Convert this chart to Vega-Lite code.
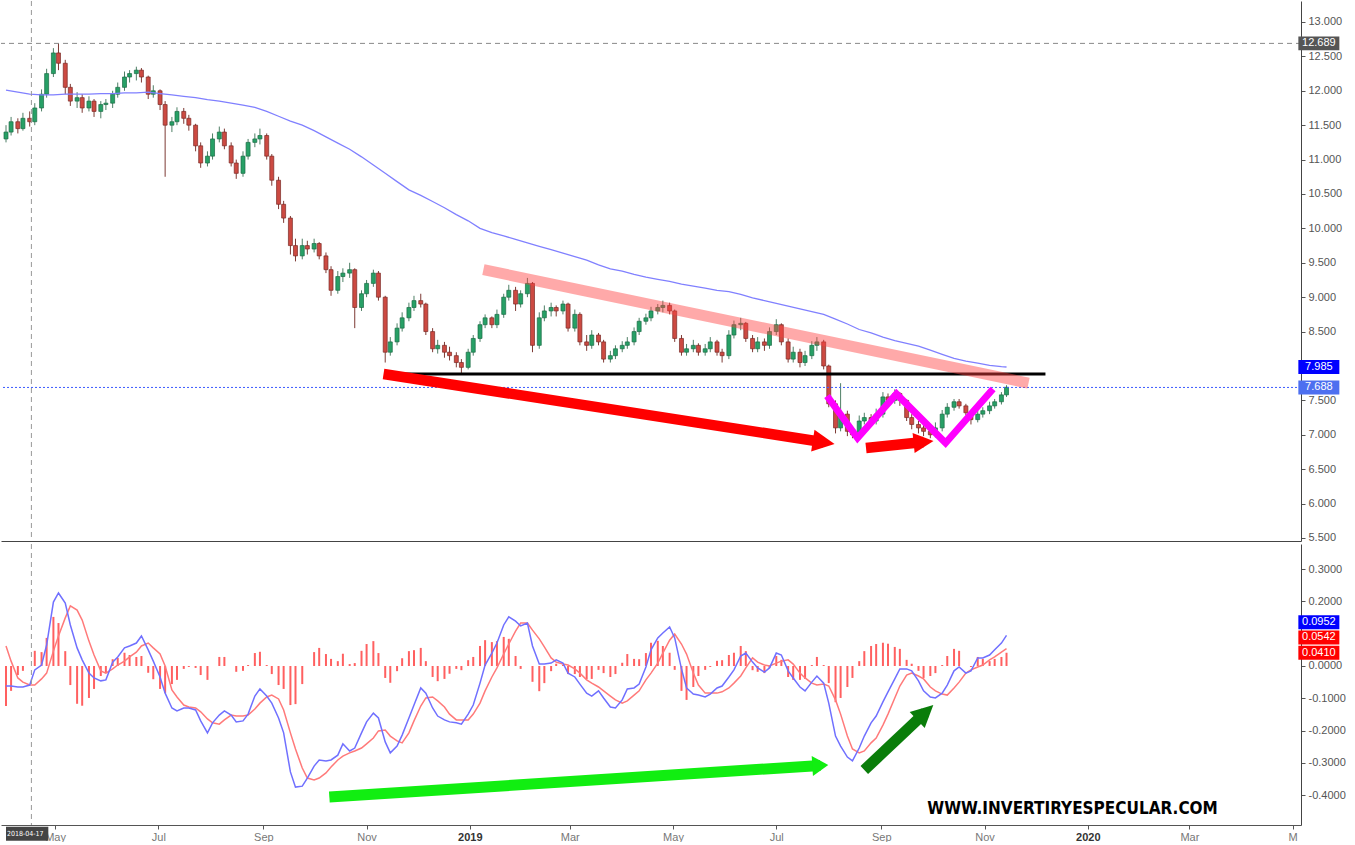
{
"$schema":"https://vega.github.io/schema/vega-lite/v6.json",
"padding":0,
"background":"white",
"spacing":0,
"config":{"view":{"stroke":null},"axis":{"grid":false,"labelFont":"Liberation Sans","labelFontSize":11,"labelColor":"#555555","domainColor":"#555555","tickColor":"#555555"}},
"datasets":{
"one":[{}],
"c":[
{"d":"2018-04-02","o":11.3,"h":11.5,"l":11.25,"c":11.4,"ma":12.01,"m":-0.062,"s":0.062,"g":-0.124},
{"d":"2018-04-05","o":11.4,"h":11.62,"l":11.35,"c":11.55,"m":-0.062,"s":0.015,"g":-0.077},
{"d":"2018-04-09","o":11.55,"h":11.6,"l":11.38,"c":11.45,"ma":11.98,"m":-0.065,"s":-0.037,"g":-0.028},
{"d":"2018-04-12","o":11.45,"h":11.68,"l":11.42,"c":11.6,"m":-0.065,"s":-0.05,"g":-0.015},
{"d":"2018-04-16","o":11.6,"h":11.7,"l":11.48,"c":11.55,"ma":11.95,"m":-0.059,"s":-0.059,"g":0},
{"d":"2018-04-19","o":11.55,"h":11.82,"l":11.5,"c":11.75,"m":-0.012,"s":-0.059,"g":0.047},
{"d":"2018-04-23","o":11.75,"h":12.02,"l":11.7,"c":11.95,"ma":11.94,"m":0.003,"s":-0.04,"g":0.043},
{"d":"2018-04-26","o":11.95,"h":12.32,"l":11.9,"c":12.25,"m":0.065,"s":-0.022,"g":0.087},
{"d":"2018-04-30","o":12.25,"h":12.62,"l":12.2,"c":12.55,"ma":11.94,"m":0.198,"s":0.046,"g":0.152},
{"d":"2018-05-03","o":12.55,"h":12.69,"l":12.3,"c":12.4,"m":0.226,"s":0.093,"g":0.133},
{"d":"2018-05-07","o":12.4,"h":12.45,"l":11.95,"c":12.05,"ma":11.95,"m":0.195,"s":0.149,"g":0.046},
{"d":"2018-05-10","o":12.05,"h":12.1,"l":11.78,"c":11.85,"m":0.127,"s":0.186,"g":-0.059},
{"d":"2018-05-14","o":11.85,"h":11.98,"l":11.75,"c":11.9,"ma":11.95,"m":0.056,"s":0.173,"g":-0.117},
{"d":"2018-05-17","o":11.9,"h":11.95,"l":11.68,"c":11.75,"m":0.019,"s":0.142,"g":-0.123},
{"d":"2018-05-21","o":11.75,"h":11.92,"l":11.7,"c":11.85,"ma":11.95,"m":-0.022,"s":0.077,"g":-0.099},
{"d":"2018-05-24","o":11.85,"h":11.88,"l":11.62,"c":11.7,"m":-0.037,"s":0.034,"g":-0.071},
{"d":"2018-05-28","o":11.7,"h":11.85,"l":11.6,"c":11.8,"ma":11.96,"m":-0.046,"s":-0.015,"g":-0.031},
{"d":"2018-05-31","o":11.8,"h":11.88,"l":11.72,"c":11.82,"m":-0.043,"s":-0.022,"g":-0.021},
{"d":"2018-06-04","o":11.82,"h":12.0,"l":11.75,"c":11.95,"ma":11.96,"m":0.012,"s":-0.009,"g":0.021},
{"d":"2018-06-07","o":11.95,"h":12.12,"l":11.9,"c":12.05,"m":0.028,"s":0.003,"g":0.025},
{"d":"2018-06-11","o":12.05,"h":12.28,"l":12.0,"c":12.2,"ma":11.97,"m":0.056,"s":0.015,"g":0.041},
{"d":"2018-06-14","o":12.2,"h":12.3,"l":12.12,"c":12.25,"m":0.062,"s":0.028,"g":0.034},
{"d":"2018-06-18","o":12.25,"h":12.35,"l":12.15,"c":12.3,"ma":11.97,"m":0.071,"s":0.043,"g":0.028},
{"d":"2018-06-21","o":12.3,"h":12.33,"l":12.12,"c":12.2,"m":0.093,"s":0.062,"g":0.031},
{"d":"2018-06-25","o":12.2,"h":12.22,"l":11.88,"c":11.95,"ma":11.98,"m":0.05,"s":0.071,"g":-0.021},
{"d":"2018-06-28","o":11.95,"h":12.08,"l":11.9,"c":12.0,"m":0.015,"s":0.056,"g":-0.041},
{"d":"2018-07-02","o":12.0,"h":12.02,"l":11.72,"c":11.8,"ma":11.96,"m":-0.034,"s":0.037,"g":-0.071},
{"d":"2018-07-05","o":11.8,"h":11.85,"l":10.75,"c":11.5,"m":-0.084,"s":0.0,"g":-0.084},
{"d":"2018-07-09","o":11.5,"h":11.62,"l":11.4,"c":11.55,"ma":11.94,"m":-0.13,"s":-0.074,"g":-0.056},
{"d":"2018-07-12","o":11.55,"h":11.76,"l":11.5,"c":11.7,"m":-0.139,"s":-0.096,"g":-0.043},
{"d":"2018-07-16","o":11.7,"h":11.75,"l":11.52,"c":11.6,"ma":11.92,"m":-0.13,"s":-0.121,"g":-0.009},
{"d":"2018-07-19","o":11.6,"h":11.65,"l":11.42,"c":11.5,"m":-0.13,"s":-0.127,"g":-0.003},
{"d":"2018-07-23","o":11.5,"h":11.52,"l":11.12,"c":11.2,"ma":11.9,"m":-0.136,"s":-0.13,"g":-0.006},
{"d":"2018-07-26","o":11.2,"h":11.25,"l":10.88,"c":10.95,"m":-0.17,"s":-0.142,"g":-0.028},
{"d":"2018-07-30","o":10.95,"h":11.12,"l":10.9,"c":11.05,"ma":11.87,"m":-0.207,"s":-0.164,"g":-0.043},
{"d":"2018-08-02","o":11.05,"h":11.38,"l":11.0,"c":11.3,"m":-0.176,"s":-0.176,"g":0},
{"d":"2018-08-06","o":11.3,"h":11.48,"l":11.25,"c":11.4,"ma":11.85,"m":-0.152,"s":-0.18,"g":0.028},
{"d":"2018-08-09","o":11.4,"h":11.45,"l":11.15,"c":11.2,"m":-0.139,"s":-0.167,"g":0.028},
{"d":"2018-08-13","o":11.2,"h":11.25,"l":10.9,"c":10.95,"ma":11.82,"m":-0.152,"s":-0.152,"g":0},
{"d":"2018-08-16","o":10.95,"h":11.0,"l":10.72,"c":10.8,"m":-0.173,"s":-0.155,"g":-0.018},
{"d":"2018-08-20","o":10.8,"h":11.12,"l":10.75,"c":11.05,"ma":11.79,"m":-0.17,"s":-0.155,"g":-0.015},
{"d":"2018-08-23","o":11.05,"h":11.3,"l":11.0,"c":11.25,"m":-0.149,"s":-0.152,"g":0.003},
{"d":"2018-08-27","o":11.25,"h":11.38,"l":11.18,"c":11.3,"ma":11.76,"m":-0.093,"s":-0.133,"g":0.04},
{"d":"2018-08-30","o":11.3,"h":11.45,"l":11.22,"c":11.35,"m":-0.071,"s":-0.115,"g":0.044},
{"d":"2018-09-03","o":11.35,"h":11.38,"l":11.0,"c":11.05,"ma":11.7,"m":-0.093,"s":-0.096,"g":0.003},
{"d":"2018-09-06","o":11.05,"h":11.08,"l":10.62,"c":10.7,"m":-0.115,"s":-0.09,"g":-0.025},
{"d":"2018-09-10","o":10.7,"h":10.75,"l":10.28,"c":10.35,"ma":11.63,"m":-0.161,"s":-0.102,"g":-0.059},
{"d":"2018-09-13","o":10.35,"h":10.4,"l":10.08,"c":10.15,"m":-0.207,"s":-0.136,"g":-0.071},
{"d":"2018-09-17","o":10.15,"h":10.18,"l":9.62,"c":9.75,"ma":11.56,"m":-0.328,"s":-0.207,"g":-0.121},
{"d":"2018-09-20","o":9.75,"h":9.85,"l":9.52,"c":9.6,"m":-0.375,"s":-0.257,"g":-0.118},
{"d":"2018-09-24","o":9.6,"h":9.85,"l":9.55,"c":9.75,"ma":11.5,"m":-0.372,"s":-0.316,"g":-0.056},
{"d":"2018-09-27","o":9.75,"h":9.82,"l":9.62,"c":9.7,"m":-0.347,"s":-0.347,"g":0},
{"d":"2018-10-01","o":9.7,"h":9.85,"l":9.65,"c":9.78,"ma":11.42,"m":-0.31,"s":-0.353,"g":0.043},
{"d":"2018-10-04","o":9.78,"h":9.8,"l":9.55,"c":9.6,"m":-0.291,"s":-0.347,"g":0.056},
{"d":"2018-10-08","o":9.6,"h":9.65,"l":9.35,"c":9.4,"ma":11.33,"m":-0.294,"s":-0.331,"g":0.037},
{"d":"2018-10-11","o":9.4,"h":9.45,"l":9.02,"c":9.1,"m":-0.291,"s":-0.313,"g":0.022},
{"d":"2018-10-15","o":9.1,"h":9.38,"l":9.05,"c":9.3,"ma":11.24,"m":-0.276,"s":-0.291,"g":0.015},
{"d":"2018-10-18","o":9.3,"h":9.42,"l":9.22,"c":9.35,"m":-0.241,"s":-0.279,"g":0.038},
{"d":"2018-10-22","o":9.35,"h":9.5,"l":9.28,"c":9.4,"ma":11.15,"m":-0.263,"s":-0.269,"g":0.006},
{"d":"2018-10-25","o":9.4,"h":9.42,"l":8.55,"c":8.85,"m":-0.254,"s":-0.263,"g":0.009},
{"d":"2018-10-29","o":8.85,"h":9.1,"l":8.8,"c":9.05,"ma":11.04,"m":-0.207,"s":-0.254,"g":0.047},
{"d":"2018-11-01","o":9.05,"h":9.25,"l":9.0,"c":9.2,"m":-0.173,"s":-0.241,"g":0.068},
{"d":"2018-11-05","o":9.2,"h":9.4,"l":9.15,"c":9.35,"ma":10.92,"m":-0.146,"s":-0.223,"g":0.077},
{"d":"2018-11-08","o":9.35,"h":9.38,"l":8.95,"c":9.0,"m":-0.161,"s":-0.201,"g":0.04},
{"d":"2018-11-12","o":9.0,"h":9.02,"l":8.05,"c":8.2,"ma":10.8,"m":-0.235,"s":-0.198,"g":-0.037},
{"d":"2018-11-15","o":8.2,"h":8.42,"l":8.15,"c":8.35,"m":-0.269,"s":-0.217,"g":-0.052},
{"d":"2018-11-19","o":8.35,"h":8.62,"l":8.3,"c":8.55,"ma":10.68,"m":-0.248,"s":-0.232,"g":-0.016},
{"d":"2018-11-22","o":8.55,"h":8.78,"l":8.5,"c":8.7,"m":-0.214,"s":-0.238,"g":0.024},
{"d":"2018-11-26","o":8.7,"h":8.92,"l":8.65,"c":8.85,"ma":10.56,"m":-0.161,"s":-0.207,"g":0.046},
{"d":"2018-11-29","o":8.85,"h":9.02,"l":8.8,"c":8.95,"m":-0.121,"s":-0.17,"g":0.049},
{"d":"2018-12-03","o":8.95,"h":9.05,"l":8.85,"c":8.9,"ma":10.48,"m":-0.068,"s":-0.124,"g":0.056},
{"d":"2018-12-06","o":8.9,"h":8.92,"l":8.45,"c":8.5,"m":-0.084,"s":-0.099,"g":0.015},
{"d":"2018-12-10","o":8.5,"h":8.55,"l":8.2,"c":8.25,"ma":10.39,"m":-0.13,"s":-0.096,"g":-0.034},
{"d":"2018-12-13","o":8.25,"h":8.38,"l":8.18,"c":8.3,"m":-0.155,"s":-0.108,"g":-0.047},
{"d":"2018-12-17","o":8.3,"h":8.35,"l":8.12,"c":8.2,"ma":10.3,"m":-0.167,"s":-0.127,"g":-0.04},
{"d":"2018-12-20","o":8.2,"h":8.28,"l":8.08,"c":8.15,"m":-0.173,"s":-0.149,"g":-0.024},
{"d":"2018-12-24","o":8.15,"h":8.2,"l":7.98,"c":8.05,"ma":10.2,"m":-0.176,"s":-0.167,"g":-0.009},
{"d":"2018-12-27","o":8.05,"h":8.1,"l":7.88,"c":7.98,"m":-0.18,"s":-0.167,"g":-0.013},
{"d":"2018-12-31","o":7.98,"h":8.25,"l":7.95,"c":8.2,"ma":10.11,"m":-0.149,"s":-0.167,"g":0.018},
{"d":"2019-01-03","o":8.2,"h":8.45,"l":8.15,"c":8.4,"m":-0.121,"s":-0.149,"g":0.028},
{"d":"2019-01-07","o":8.4,"h":8.65,"l":8.35,"c":8.6,"ma":10.0,"m":-0.053,"s":-0.115,"g":0.062},
{"d":"2019-01-10","o":8.6,"h":8.75,"l":8.55,"c":8.7,"m":0.003,"s":-0.077,"g":0.08},
{"d":"2019-01-14","o":8.7,"h":8.72,"l":8.55,"c":8.6,"ma":9.94,"m":0.04,"s":-0.034,"g":0.074},
{"d":"2019-01-17","o":8.6,"h":8.82,"l":8.55,"c":8.75,"m":0.071,"s":-0.006,"g":0.077},
{"d":"2019-01-21","o":8.75,"h":9.05,"l":8.7,"c":9.0,"ma":9.89,"m":0.127,"s":0.037,"g":0.09},
{"d":"2019-01-24","o":9.0,"h":9.18,"l":8.95,"c":9.1,"m":0.152,"s":0.068,"g":0.084},
{"d":"2019-01-28","o":9.1,"h":9.15,"l":8.8,"c":8.9,"ma":9.84,"m":0.139,"s":0.108,"g":0.031},
{"d":"2019-01-31","o":8.9,"h":9.1,"l":8.85,"c":9.05,"m":0.124,"s":0.133,"g":-0.009},
{"d":"2019-02-04","o":9.05,"h":9.28,"l":9.0,"c":9.2,"ma":9.79,"m":0.133,"s":0.133,"g":0},
{"d":"2019-02-07","o":9.2,"h":9.22,"l":8.2,"c":8.3,"m":0.062,"s":0.111,"g":-0.049},
{"d":"2019-02-11","o":8.3,"h":8.78,"l":8.25,"c":8.7,"ma":9.74,"m":0.006,"s":0.084,"g":-0.078},
{"d":"2019-02-14","o":8.7,"h":8.88,"l":8.65,"c":8.8,"m":0.006,"s":0.059,"g":-0.053},
{"d":"2019-02-18","o":8.8,"h":8.92,"l":8.72,"c":8.85,"ma":9.69,"m":0.009,"s":0.025,"g":-0.016},
{"d":"2019-02-21","o":8.85,"h":8.88,"l":8.72,"c":8.8,"m":0.019,"s":0.012,"g":0.007},
{"d":"2019-02-25","o":8.8,"h":8.95,"l":8.75,"c":8.9,"ma":9.64,"m":0.009,"s":0.006,"g":0.003},
{"d":"2019-02-28","o":8.9,"h":8.92,"l":8.5,"c":8.55,"m":-0.022,"s":0.003,"g":-0.025},
{"d":"2019-03-04","o":8.55,"h":8.82,"l":8.5,"c":8.75,"ma":9.59,"m":-0.034,"s":-0.009,"g":-0.025},
{"d":"2019-03-07","o":8.75,"h":8.78,"l":8.3,"c":8.35,"m":-0.056,"s":-0.022,"g":-0.034},
{"d":"2019-03-11","o":8.35,"h":8.45,"l":8.22,"c":8.3,"ma":9.54,"m":-0.084,"s":-0.043,"g":-0.041},
{"d":"2019-03-14","o":8.3,"h":8.52,"l":8.25,"c":8.45,"m":-0.093,"s":-0.053,"g":-0.04},
{"d":"2019-03-18","o":8.45,"h":8.48,"l":8.3,"c":8.35,"ma":9.47,"m":-0.077,"s":-0.065,"g":-0.012},
{"d":"2019-03-21","o":8.35,"h":8.38,"l":8.05,"c":8.1,"m":-0.099,"s":-0.077,"g":-0.022},
{"d":"2019-03-25","o":8.1,"h":8.22,"l":8.05,"c":8.15,"ma":9.41,"m":-0.127,"s":-0.093,"g":-0.034},
{"d":"2019-03-28","o":8.15,"h":8.3,"l":8.1,"c":8.25,"m":-0.13,"s":-0.105,"g":-0.025},
{"d":"2019-04-01","o":8.25,"h":8.36,"l":8.2,"c":8.3,"ma":9.38,"m":-0.105,"s":-0.115,"g":0.01},
{"d":"2019-04-04","o":8.3,"h":8.42,"l":8.25,"c":8.35,"m":-0.071,"s":-0.108,"g":0.037},
{"d":"2019-04-08","o":8.35,"h":8.56,"l":8.3,"c":8.5,"ma":9.33,"m":-0.068,"s":-0.09,"g":0.022},
{"d":"2019-04-11","o":8.5,"h":8.7,"l":8.45,"c":8.65,"m":-0.056,"s":-0.077,"g":0.021},
{"d":"2019-04-15","o":8.65,"h":8.76,"l":8.6,"c":8.7,"ma":9.29,"m":-0.003,"s":-0.043,"g":0.04},
{"d":"2019-04-18","o":8.7,"h":8.86,"l":8.65,"c":8.8,"m":0.05,"s":-0.022,"g":0.072},
{"d":"2019-04-22","o":8.8,"h":8.9,"l":8.75,"c":8.85,"ma":9.26,"m":0.087,"s":0.009,"g":0.078},
{"d":"2019-04-25","o":8.85,"h":8.95,"l":8.78,"c":8.88,"m":0.102,"s":0.04,"g":0.062},
{"d":"2019-04-29","o":8.88,"h":8.92,"l":8.75,"c":8.8,"ma":9.23,"m":0.121,"s":0.08,"g":0.041},
{"d":"2019-05-02","o":8.8,"h":8.82,"l":8.35,"c":8.4,"m":0.087,"s":0.099,"g":-0.012},
{"d":"2019-05-06","o":8.4,"h":8.45,"l":8.15,"c":8.2,"ma":9.19,"m":-0.009,"s":0.068,"g":-0.077},
{"d":"2019-05-09","o":8.2,"h":8.32,"l":8.15,"c":8.25,"m":-0.068,"s":0.037,"g":-0.105},
{"d":"2019-05-13","o":8.25,"h":8.38,"l":8.2,"c":8.3,"ma":9.16,"m":-0.087,"s":-0.022,"g":-0.065},
{"d":"2019-05-16","o":8.3,"h":8.33,"l":8.15,"c":8.2,"m":-0.09,"s":-0.059,"g":-0.031},
{"d":"2019-05-20","o":8.2,"h":8.32,"l":8.15,"c":8.25,"ma":9.13,"m":-0.096,"s":-0.084,"g":-0.012},
{"d":"2019-05-23","o":8.25,"h":8.42,"l":8.2,"c":8.35,"m":-0.087,"s":-0.084,"g":-0.003},
{"d":"2019-05-27","o":8.35,"h":8.38,"l":8.15,"c":8.2,"ma":9.1,"m":-0.068,"s":-0.084,"g":0.016},
{"d":"2019-05-30","o":8.2,"h":8.25,"l":8.05,"c":8.15,"m":-0.062,"s":-0.08,"g":0.018},
{"d":"2019-06-03","o":8.15,"h":8.52,"l":8.1,"c":8.45,"ma":9.08,"m":-0.034,"s":-0.068,"g":0.034},
{"d":"2019-06-06","o":8.45,"h":8.66,"l":8.4,"c":8.6,"m":-0.012,"s":-0.053,"g":0.041},
{"d":"2019-06-10","o":8.6,"h":8.7,"l":8.52,"c":8.62,"ma":9.04,"m":0.031,"s":-0.031,"g":0.062},
{"d":"2019-06-13","o":8.62,"h":8.64,"l":8.35,"c":8.4,"m":0.04,"s":-0.006,"g":0.046},
{"d":"2019-06-17","o":8.4,"h":8.45,"l":8.2,"c":8.25,"ma":8.99,"m":0.012,"s":0.025,"g":-0.013},
{"d":"2019-06-20","o":8.25,"h":8.42,"l":8.2,"c":8.35,"m":-0.006,"s":0.012,"g":-0.018},
{"d":"2019-06-24","o":8.35,"h":8.4,"l":8.22,"c":8.3,"ma":8.95,"m":-0.019,"s":0.003,"g":-0.022},
{"d":"2019-06-27","o":8.3,"h":8.56,"l":8.25,"c":8.5,"m":-0.006,"s":0.0,"g":-0.006},
{"d":"2019-07-01","o":8.5,"h":8.68,"l":8.45,"c":8.6,"ma":8.91,"m":0.04,"s":0.009,"g":0.031},
{"d":"2019-07-04","o":8.6,"h":8.62,"l":8.3,"c":8.35,"m":0.034,"s":0.015,"g":0.019},
{"d":"2019-07-08","o":8.35,"h":8.4,"l":8.05,"c":8.1,"ma":8.87,"m":-0.015,"s":0.019,"g":-0.034},
{"d":"2019-07-11","o":8.1,"h":8.28,"l":8.05,"c":8.2,"m":-0.037,"s":0.006,"g":-0.043},
{"d":"2019-07-15","o":8.2,"h":8.25,"l":7.98,"c":8.05,"ma":8.83,"m":-0.065,"s":-0.022,"g":-0.043},
{"d":"2019-07-18","o":8.05,"h":8.22,"l":8.0,"c":8.15,"m":-0.077,"s":-0.037,"g":-0.04},
{"d":"2019-07-22","o":8.15,"h":8.36,"l":8.1,"c":8.3,"ma":8.79,"m":-0.05,"s":-0.053,"g":0.003},
{"d":"2019-07-25","o":8.3,"h":8.42,"l":8.22,"c":8.35,"m":-0.031,"s":-0.059,"g":0.028},
{"d":"2019-07-29","o":8.35,"h":8.38,"l":7.95,"c":8.0,"ma":8.75,"m":-0.053,"s":-0.056,"g":0.003},
{"d":"2019-08-01","o":8.0,"h":8.02,"l":7.4,"c":7.45,"m":-0.115,"s":-0.062,"g":-0.053},
{"d":"2019-08-05","o":7.45,"h":7.5,"l":7.02,"c":7.1,"ma":8.68,"m":-0.217,"s":-0.105,"g":-0.112},
{"d":"2019-08-08","o":7.1,"h":7.75,"l":7.05,"c":7.3,"m":-0.248,"s":-0.149,"g":-0.099},
{"d":"2019-08-12","o":7.3,"h":7.35,"l":6.98,"c":7.05,"ma":8.61,"m":-0.282,"s":-0.217,"g":-0.065},
{"d":"2019-08-15","o":7.05,"h":7.12,"l":6.95,"c":7.0,"m":-0.294,"s":-0.257,"g":-0.037},
{"d":"2019-08-19","o":7.0,"h":7.28,"l":6.98,"c":7.2,"ma":8.53,"m":-0.254,"s":-0.269,"g":0.015},
{"d":"2019-08-22","o":7.2,"h":7.32,"l":7.15,"c":7.25,"m":-0.217,"s":-0.263,"g":0.046},
{"d":"2019-08-26","o":7.25,"h":7.3,"l":7.12,"c":7.2,"ma":8.48,"m":-0.176,"s":-0.238,"g":0.062},
{"d":"2019-08-29","o":7.2,"h":7.38,"l":7.15,"c":7.3,"m":-0.155,"s":-0.223,"g":0.068},
{"d":"2019-09-02","o":7.3,"h":7.62,"l":7.25,"c":7.55,"ma":8.42,"m":-0.111,"s":-0.183,"g":0.072},
{"d":"2019-09-05","o":7.55,"h":7.6,"l":7.42,"c":7.5,"m":-0.08,"s":-0.149,"g":0.069},
{"d":"2019-09-09","o":7.5,"h":7.66,"l":7.45,"c":7.6,"ma":8.37,"m":-0.04,"s":-0.099,"g":0.059},
{"d":"2019-09-12","o":7.6,"h":7.62,"l":7.42,"c":7.5,"m":-0.009,"s":-0.062,"g":0.053},
{"d":"2019-09-16","o":7.5,"h":7.52,"l":7.2,"c":7.25,"ma":8.33,"m":-0.009,"s":-0.028,"g":0.019},
{"d":"2019-09-19","o":7.25,"h":7.3,"l":7.08,"c":7.15,"m":-0.015,"s":-0.022,"g":0.007},
{"d":"2019-09-23","o":7.15,"h":7.2,"l":7.02,"c":7.1,"ma":8.29,"m":-0.046,"s":-0.031,"g":-0.015},
{"d":"2019-09-26","o":7.1,"h":7.15,"l":6.98,"c":7.05,"m":-0.077,"s":-0.04,"g":-0.037},
{"d":"2019-09-30","o":7.05,"h":7.1,"l":6.95,"c":7.0,"ma":8.23,"m":-0.096,"s":-0.065,"g":-0.031},
{"d":"2019-10-03","o":7.0,"h":7.18,"l":6.96,"c":7.1,"m":-0.099,"s":-0.077,"g":-0.022},
{"d":"2019-10-07","o":7.1,"h":7.36,"l":7.05,"c":7.3,"ma":8.17,"m":-0.084,"s":-0.087,"g":0.003},
{"d":"2019-10-10","o":7.3,"h":7.46,"l":7.25,"c":7.4,"m":-0.059,"s":-0.09,"g":0.031},
{"d":"2019-10-14","o":7.4,"h":7.52,"l":7.35,"c":7.48,"ma":8.11,"m":-0.015,"s":-0.068,"g":0.053},
{"d":"2019-10-17","o":7.48,"h":7.52,"l":7.38,"c":7.42,"m":-0.003,"s":-0.05,"g":0.047},
{"d":"2019-10-21","o":7.42,"h":7.45,"l":7.28,"c":7.32,"ma":8.07,"m":-0.022,"s":-0.022,"g":0},
{"d":"2019-10-24","o":7.32,"h":7.35,"l":7.15,"c":7.22,"m":-0.015,"s":-0.012,"g":-0.003},
{"d":"2019-10-28","o":7.22,"h":7.35,"l":7.18,"c":7.3,"ma":8.04,"m":0.025,"s":-0.003,"g":0.028},
{"d":"2019-10-31","o":7.3,"h":7.4,"l":7.25,"c":7.35,"m":0.025,"s":0.003,"g":0.022},
{"d":"2019-11-04","o":7.35,"h":7.48,"l":7.3,"c":7.42,"ma":8.01,"m":0.034,"s":0.019,"g":0.015},
{"d":"2019-11-07","o":7.42,"h":7.52,"l":7.38,"c":7.48,"m":0.05,"s":0.028,"g":0.022},
{"d":"2019-11-11","o":7.48,"h":7.62,"l":7.44,"c":7.58,"ma":7.99,"m":0.071,"s":0.043,"g":0.028},
{"d":"2019-11-14","o":7.58,"h":7.72,"l":7.55,"c":7.69,"ma":7.985,"m":0.095,"s":0.054,"g":0.041}
],
"pink":[{"d":"2019-01-09","p":9.40},{"d":"2019-11-27","p":7.75}],
"black":[{"d":"2018-11-22","p":7.884},{"d":"2019-12-07","p":7.884}],
"redarrows":[{"id":"a1","d":"2018-11-11","p":7.884},{"id":"a1","d":"2019-07-29","p":6.892},{"id":"a2","d":"2019-08-23","p":6.808},{"id":"a2","d":"2019-09-26","p":6.895}],
"zigzag":[{"d":"2019-07-31","p":7.564},{"d":"2019-08-18","p":6.953},{"d":"2019-09-10","p":7.593},{"d":"2019-10-09","p":6.881},{"d":"2019-11-06","p":7.666}],
"greenarrow":[{"d":"2018-10-10","v":-0.4056},{"d":"2019-07-27","v":-0.308}],
"dkgreenarrow":[{"d":"2019-08-22","v":-0.322},{"d":"2019-09-27","v":-0.144}]
},
"vconcat":[
{
"width":1300,"height":540,
"layer":[
{"data":{"name":"c"},"mark":{"type":"rule","clip":true,"strokeWidth":1},
 "encoding":{
  "x":{"field":"d","type":"temporal","title":null,"scale":{"type":"utc","domain":[{"year":2018,"month":4,"date":2,"utc":true},{"year":2020,"month":5,"date":3,"utc":true}]},"axis":{"orient":"bottom","labels":false,"ticks":false,"domain":true,"domainColor":"#444444","title":null}},
  "y":{"field":"l","type":"quantitative","title":null,"scale":{"domain":[5.456,13.305],"nice":false,"zero":false},"axis":{"orient":"right","values":[5.5,6,6.5,7,7.5,8.5,9,9.5,10,10.5,11,11.5,12,12.5,13],"tickCount":40,"format":".3f","tickSize":4,"labelPadding":3,"labelOverlap":false,"labelFlush":false,"title":null,"domainColor":"#444444"}},
  "y2":{"field":"h"},
  "color":{"condition":{"test":"datum.c >= datum.o","value":"#4f7f66"},"value":"#7d3a34"}}},
{"data":{"name":"c"},"mark":{"type":"bar","width":4,"clip":true,"strokeWidth":0.7},
 "encoding":{
  "x":{"field":"d","type":"temporal","title":null},
  "y":{"field":"o","type":"quantitative","title":null},
  "y2":{"field":"c"},
  "fill":{"condition":{"test":"datum.c >= datum.o","value":"#27a066"},"value":"#cc4a42"},
  "stroke":{"condition":{"test":"datum.c >= datum.o","value":"#1b6b45"},"value":"#7a2a25"}}},
{"data":{"name":"c"},"transform":[{"filter":"isValid(datum.ma)"}],"mark":{"type":"line","clip":true,"color":"#8080ff","strokeWidth":1.3},
 "encoding":{
  "x":{"field":"d","type":"temporal","title":null},
  "y":{"field":"ma","type":"quantitative","title":null}}},
{"data":{"name":"one"},"mark":{"type":"rule","color":"#999999","strokeDash":[5,4],"strokeWidth":1},
 "encoding":{"x":{"datum":{"year":2018,"month":4,"date":17,"utc":true},"type":"temporal","title":null}}},
{"data":{"name":"one"},"mark":{"type":"rule","color":"#888888","strokeDash":[5,4],"strokeWidth":1},
 "encoding":{"y":{"datum":12.689,"type":"quantitative","title":null}}},
{"data":{"name":"one"},"mark":{"type":"rule","color":"#3b5bff","strokeDash":[2,2],"strokeWidth":1},
 "encoding":{"y":{"datum":7.688,"type":"quantitative","title":null}}},
{"data":{"name":"black"},"mark":{"type":"line","color":"#000000","strokeWidth":3},
 "encoding":{
  "x":{"field":"d","type":"temporal","title":null},
  "y":{"field":"p","type":"quantitative","title":null}}},
{"data":{"name":"pink"},"mark":{"type":"line","color":"#ff4040","opacity":0.45,"strokeWidth":11,"strokeCap":"butt"},
 "encoding":{
  "x":{"field":"d","type":"temporal","title":null},
  "y":{"field":"p","type":"quantitative","title":null}}},
{"data":{"name":"redarrows"},"mark":{"type":"line","color":"#ff0000","strokeWidth":10.5,"strokeCap":"butt"},
 "encoding":{
  "x":{"field":"d","type":"temporal","title":null},
  "y":{"field":"p","type":"quantitative","title":null},
  "detail":{"field":"id"}}},
{"data":{"name":"one"},"mark":{"type":"point","shape":"M-1,-1L1,0L-1,1Z","size":484,"angle":8.75,"filled":true,"opacity":1,"color":"#ff0000"},
 "encoding":{
  "x":{"datum":{"year":2019,"month":7,"date":29,"utc":true},"type":"temporal","title":null},
  "y":{"datum":6.892,"type":"quantitative","title":null}}},
{"data":{"name":"one"},"mark":{"type":"point","shape":"M-1,-1L1,0L-1,1Z","size":400,"angle":-5.9,"filled":true,"opacity":1,"color":"#ff0000"},
 "encoding":{
  "x":{"datum":{"year":2019,"month":9,"date":26,"utc":true},"type":"temporal","title":null},
  "y":{"datum":6.895,"type":"quantitative","title":null}}},
{"data":{"name":"zigzag"},"mark":{"type":"line","color":"#ff00ff","strokeWidth":7,"strokeCap":"butt"},
 "encoding":{
  "x":{"field":"d","type":"temporal","title":null},
  "y":{"field":"p","type":"quantitative","title":null}}},
{"data":{"name":"one"},"mark":{"type":"point","shape":"M-1,-0.34H1V0.34H-1Z","size":1681,"filled":true,"opacity":1,"color":"#555555"},
 "encoding":{
  "x":{"datum":{"year":2020,"month":5,"date":16,"hours":12,"utc":true},"type":"temporal","title":null},
  "y":{"datum":12.689,"type":"quantitative","title":null}}},
{"data":{"name":"one"},"mark":{"type":"text","text":"12.689","color":"#ffffff","font":"Liberation Sans","fontSize":11,"align":"center","baseline":"middle"},
 "encoding":{
  "x":{"datum":{"year":2020,"month":5,"date":16,"hours":12,"utc":true},"type":"temporal","title":null},
  "y":{"datum":12.689,"type":"quantitative","title":null}}},
{"data":{"name":"one"},"mark":{"type":"point","shape":"M-1,-0.34H1V0.34H-1Z","size":1681,"filled":true,"opacity":1,"color":"#0000ff"},
 "encoding":{
  "x":{"datum":{"year":2020,"month":5,"date":16,"hours":12,"utc":true},"type":"temporal","title":null},
  "y":{"datum":7.985,"type":"quantitative","title":null}}},
{"data":{"name":"one"},"mark":{"type":"text","text":"7.985","color":"#ffffff","font":"Liberation Sans","fontSize":11,"align":"center","baseline":"middle"},
 "encoding":{
  "x":{"datum":{"year":2020,"month":5,"date":16,"hours":12,"utc":true},"type":"temporal","title":null},
  "y":{"datum":7.985,"type":"quantitative","title":null}}},
{"data":{"name":"one"},"mark":{"type":"point","shape":"M-1,-0.34H1V0.34H-1Z","size":1681,"filled":true,"opacity":1,"color":"#4d6ff0"},
 "encoding":{
  "x":{"datum":{"year":2020,"month":5,"date":16,"hours":12,"utc":true},"type":"temporal","title":null},
  "y":{"datum":7.688,"type":"quantitative","title":null}}},
{"data":{"name":"one"},"mark":{"type":"text","text":"7.688","color":"#ffffff","font":"Liberation Sans","fontSize":11,"align":"center","baseline":"middle"},
 "encoding":{
  "x":{"datum":{"year":2020,"month":5,"date":16,"hours":12,"utc":true},"type":"temporal","title":null},
  "y":{"datum":7.688,"type":"quantitative","title":null}}}
]
},
{
"width":1300,"height":281,
"layer":[
{"data":{"name":"c"},"mark":{"type":"bar","width":2,"clip":true,"color":"#ff6060"},
 "encoding":{
  "x":{"field":"d","type":"temporal","title":null,"scale":{"type":"utc","domain":[{"year":2018,"month":4,"date":2,"utc":true},{"year":2020,"month":5,"date":3,"utc":true}]},
   "axis":{"orient":"bottom","title":null,"tickCount":60,"values":[{"year":2018,"month":5,"date":1,"utc":true},{"year":2018,"month":7,"date":1,"utc":true},{"year":2018,"month":9,"date":1,"utc":true},{"year":2018,"month":11,"date":1,"utc":true},{"year":2019,"month":1,"date":1,"utc":true},{"year":2019,"month":3,"date":1,"utc":true},{"year":2019,"month":5,"date":1,"utc":true},{"year":2019,"month":7,"date":1,"utc":true},{"year":2019,"month":9,"date":1,"utc":true},{"year":2019,"month":11,"date":1,"utc":true},{"year":2020,"month":1,"date":1,"utc":true},{"year":2020,"month":3,"date":1,"utc":true},{"year":2020,"month":5,"date":1,"utc":true}],
    "labelExpr":"utcmonth(datum.value) == 0 ? utcFormat(datum.value, '%Y') : ((utcyear(datum.value) == 2020 && utcmonth(datum.value) == 4) ? 'M' : utcFormat(datum.value, '%b'))",
    "labelFontWeight":{"condition":{"test":"utcmonth(datum.value) == 0","value":"bold"},"value":"normal"},
    "labelColor":{"condition":{"test":"utcmonth(datum.value) == 0","value":"#333333"},"value":"#777777"},
    "tickSize":4,"labelPadding":2,"labelOverlap":false,"labelFlush":false,"domainColor":"#555555"}},
  "y":{"field":"g","type":"quantitative","title":null,"scale":{"domain":[-0.4923,0.3777],"nice":false,"zero":false},
   "axis":{"orient":"right","title":null,"tickCount":40,"values":[-0.4,-0.3,-0.2,-0.1,0,0.2,0.3],"labelExpr":"replace(format(datum.value, '.4f'), '−', '-')","tickSize":4,"labelPadding":3,"labelOverlap":false,"labelFlush":false,"domainColor":"#444444"}},
  "y2":{"datum":0}}},
{"data":{"name":"c"},"mark":{"type":"line","clip":true,"color":"#ff7a7a","strokeWidth":1.5},
 "encoding":{
  "x":{"field":"d","type":"temporal","title":null},
  "y":{"field":"s","type":"quantitative","title":null}}},
{"data":{"name":"c"},"mark":{"type":"line","clip":true,"color":"#7070ff","strokeWidth":1.5},
 "encoding":{
  "x":{"field":"d","type":"temporal","title":null},
  "y":{"field":"m","type":"quantitative","title":null}}},
{"data":{"name":"one"},"mark":{"type":"rule","color":"#999999","strokeDash":[5,4],"strokeWidth":1},
 "encoding":{"x":{"datum":{"year":2018,"month":4,"date":17,"utc":true},"type":"temporal","title":null}}},
{"data":{"name":"greenarrow"},"mark":{"type":"line","color":"#11ee11","strokeWidth":11,"strokeCap":"butt"},
 "encoding":{
  "x":{"field":"d","type":"temporal","title":null},
  "y":{"field":"v","type":"quantitative","title":null}}},
{"data":{"name":"one"},"mark":{"type":"point","shape":"M-0.8,-1L0.8,0L-0.8,1Z","size":400,"angle":-3.65,"filled":true,"opacity":1,"color":"#11ee11"},
 "encoding":{
  "x":{"datum":{"year":2019,"month":7,"date":27,"utc":true},"type":"temporal","title":null},
  "y":{"datum":-0.308,"type":"quantitative","title":null}}},
{"data":{"name":"dkgreenarrow"},"mark":{"type":"line","color":"#0a7d0a","strokeWidth":11,"strokeCap":"butt"},
 "encoding":{
  "x":{"field":"d","type":"temporal","title":null},
  "y":{"field":"v","type":"quantitative","title":null}}},
{"data":{"name":"one"},"mark":{"type":"point","shape":"M-1,-1L1,0L-1,1Z","size":484,"angle":-43,"filled":true,"opacity":1,"color":"#0a7d0a"},
 "encoding":{
  "x":{"datum":{"year":2019,"month":9,"date":27,"utc":true},"type":"temporal","title":null},
  "y":{"datum":-0.144,"type":"quantitative","title":null}}},
{"data":{"name":"one"},"mark":{"type":"text","text":"WWW.INVERTIRYESPECULAR.COM","font":"DejaVu Sans Condensed","fontWeight":"bold","fontSize":17,"color":"#000000","align":"center","baseline":"middle"},
 "encoding":{
  "x":{"datum":{"year":2019,"month":12,"date":23,"utc":true},"type":"temporal","title":null},
  "y":{"datum":-0.443,"type":"quantitative","title":null}}},
{"data":{"name":"one"},"mark":{"type":"point","shape":"M-1,-0.34H1V0.34H-1Z","size":1681,"filled":true,"opacity":1,"color":"#0000ff","yOffset":-13},
 "encoding":{
  "x":{"datum":{"year":2020,"month":5,"date":16,"hours":12,"utc":true},"type":"temporal","title":null},
  "y":{"datum":0.0952,"type":"quantitative","title":null}}},
{"data":{"name":"one"},"mark":{"type":"text","text":"0.0952","color":"#ffffff","font":"Liberation Sans","fontSize":11,"align":"center","baseline":"middle","yOffset":-13},
 "encoding":{
  "x":{"datum":{"year":2020,"month":5,"date":16,"hours":12,"utc":true},"type":"temporal","title":null},
  "y":{"datum":0.0952,"type":"quantitative","title":null}}},
{"data":{"name":"one"},"mark":{"type":"point","shape":"M-1,-0.34H1V0.34H-1Z","size":1681,"filled":true,"opacity":1,"color":"#ff0000","yOffset":-11},
 "encoding":{
  "x":{"datum":{"year":2020,"month":5,"date":16,"hours":12,"utc":true},"type":"temporal","title":null},
  "y":{"datum":0.0542,"type":"quantitative","title":null}}},
{"data":{"name":"one"},"mark":{"type":"text","text":"0.0542","color":"#ffffff","font":"Liberation Sans","fontSize":11,"align":"center","baseline":"middle","yOffset":-11},
 "encoding":{
  "x":{"datum":{"year":2020,"month":5,"date":16,"hours":12,"utc":true},"type":"temporal","title":null},
  "y":{"datum":0.0542,"type":"quantitative","title":null}}},
{"data":{"name":"one"},"mark":{"type":"point","shape":"M-1,-0.34H1V0.34H-1Z","size":1681,"filled":true,"opacity":1,"color":"#ff0000"},
 "encoding":{
  "x":{"datum":{"year":2020,"month":5,"date":16,"hours":12,"utc":true},"type":"temporal","title":null},
  "y":{"datum":0.041,"type":"quantitative","title":null}}},
{"data":{"name":"one"},"mark":{"type":"text","text":"0.0410","color":"#ffffff","font":"Liberation Sans","fontSize":11,"align":"center","baseline":"middle"},
 "encoding":{
  "x":{"datum":{"year":2020,"month":5,"date":16,"hours":12,"utc":true},"type":"temporal","title":null},
  "y":{"datum":0.041,"type":"quantitative","title":null}}},
{"data":{"name":"one"},"mark":{"type":"rect","color":"#444444"},
 "encoding":{
  "x":{"datum":{"year":2018,"month":4,"date":2,"utc":true},"type":"temporal","title":null},
  "x2":{"datum":{"year":2018,"month":4,"date":27,"utc":true}},
  "y":{"datum":-0.4975,"type":"quantitative","title":null},
  "y2":{"datum":-0.541}}},
{"data":{"name":"one"},"mark":{"type":"text","text":"2018-04-17","color":"#ffffff","font":"DejaVu Sans Condensed","fontSize":7,"align":"left","baseline":"middle","dx":1},
 "encoding":{
  "x":{"datum":{"year":2018,"month":4,"date":2,"utc":true},"type":"temporal","title":null},
  "y":{"datum":-0.519,"type":"quantitative","title":null}}}
]
}
]
}
